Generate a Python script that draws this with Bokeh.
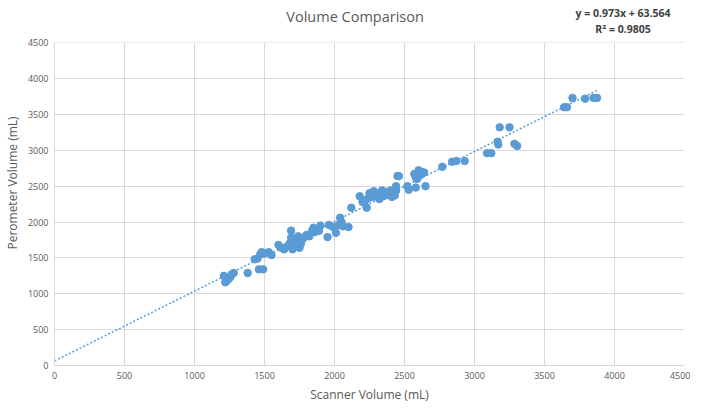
from bokeh.plotting import figure
from bokeh.models import Range1d, SingleIntervalTicker, Label, ColumnDataSource, BoxAnnotation
from bokeh.embed import file_html
from bokeh.resources import INLINE

title_text = "Volume Comparison"
x_label = "Scanner Volume (mL)"
y_label = "Perometer Volume (mL)"
eq_text = "y = 0.973x + 63.564"
r2_text = "R² = 0.9805"
slope = 0.973
intercept = 63.564

scanner = [1210, 1220, 1240, 1255, 1265, 1280, 1230, 1380, 1460, 1490, 1430, 1450, 1470, 1480, 1500, 1530, 1550,
           1600, 1620, 1640, 1660, 1680, 1690, 1690, 1700, 1710, 1720, 1740, 1750, 1760, 1770, 1780, 1800, 1820,
           1840, 1850, 1860, 1880, 1890, 1900, 1950, 1960, 1980, 2000, 2010, 2030, 2040, 2050, 2060, 2100, 2120,
           2180, 2200, 2220, 2230, 2240, 2250, 2260, 2270, 2280, 2300, 2310, 2320, 2340, 2350, 2360, 2380, 2400,
           2410, 2420, 2430, 2440, 2450, 2460, 2440,
           2520, 2530, 2570, 2580, 2590, 2600, 2610, 2620, 2640, 2650, 2580,
           2770, 2840, 2870, 2930,
           3090, 3120, 3170, 3165, 3180, 3250, 3285, 3305,
           3640, 3660, 3700, 3790, 3850, 3875]
perometer = [1250, 1160, 1200, 1230, 1270, 1290, 1180, 1290, 1340, 1340, 1480, 1490, 1550, 1580, 1560, 1580, 1540,
             1680, 1640, 1620, 1660, 1700, 1780, 1880, 1620, 1740, 1660, 1800, 1640, 1700, 1760, 1780, 1820, 1800,
             1880, 1920, 1860, 1900, 1880, 1950, 1790, 1960, 1940, 1920, 1850, 1960, 2060, 2000, 1940, 1930, 2200,
             2360, 2280, 2300, 2200, 2330, 2400, 2380, 2350, 2430, 2400, 2380, 2320, 2440, 2360, 2420, 2380, 2440,
             2350, 2400, 2370, 2500, 2640, 2640, 2440,
             2500, 2450, 2670, 2480, 2600, 2720, 2650, 2700, 2690, 2500, 2620,
             2770, 2840, 2850, 2850,
             2960, 2960, 3080, 3120, 3320, 3320, 3090, 3060,
             3600, 3600, 3730, 3720, 3730, 3730]

ticks_step = 500
axis_max = 4500
y_view_max = 5088  # room above the axes for the title and the trendline equation

FONT = "Open Sans"
GRAY = "#595959"
GRID = "#d9d9d9"
BLUE = "#5b9bd5"

p = figure(width=690, height=405, output_backend="svg", toolbar_location=None,
           x_range=Range1d(0, axis_max), y_range=Range1d(0, y_view_max),
           min_border_left=48, min_border_right=6, min_border_top=0, min_border_bottom=37)
p.outline_line_color = None
p.grid.grid_line_color = GRID
p.grid.grid_line_width = 1

for ax in (p.xaxis, p.yaxis):
    ax.ticker = SingleIntervalTicker(interval=ticks_step)
    ax.bounds = (0, axis_max)
    ax.major_tick_line_color = None
    ax.minor_tick_line_color = None
    ax.major_tick_out = 0
    ax.major_tick_in = 0
    ax.minor_tick_out = 0
    ax.minor_tick_in = 0
    ax.axis_line_color = GRID
    ax.major_label_text_font = FONT
    ax.major_label_text_font_size = "9px"
    ax.major_label_text_color = GRAY
    ax.axis_label_text_font = FONT
    ax.axis_label_text_font_size = "12px"
    ax.axis_label_text_color = GRAY
    ax.axis_label_text_font_style = "normal"

p.xaxis.axis_label = x_label
p.yaxis.axis_label = y_label
p.xaxis.major_label_standoff = 6
p.yaxis.major_label_standoff = 6
p.xaxis.axis_label_standoff = 4
p.yaxis.axis_label_standoff = 4

# trendline
x_min, x_max = 0, max(scanner)
tsrc = ColumnDataSource(dict(x=[x_min, x_max], y=[slope * x_min + intercept, slope * x_max + intercept]))
p.line("x", "y", source=tsrc, line_color=BLUE, line_width=1.5, line_dash="2 2")

src = ColumnDataSource(dict(x=scanner, y=perometer))
p.scatter("x", "y", source=src, size=7.5, fill_color=BLUE, line_color=BLUE)

# blank the grid lines above the plot area (title zone)
p.add_layout(BoxAnnotation(bottom=axis_max + 1, fill_color="white", fill_alpha=1.0, line_color=None))

p.add_layout(Label(x=2147, y=4864, text=title_text, text_font=FONT, text_font_size="14.5px",
                   text_color=GRAY, text_align="center", text_baseline="middle"))
p.add_layout(Label(x=4061, y=4919, text=eq_text, text_font=FONT, text_font_size="10.5px",
                   text_font_style="bold", text_color="#404040", text_align="center", text_baseline="middle"))
p.add_layout(Label(x=4061, y=4695, text=r2_text, text_font=FONT, text_font_size="10.5px",
                   text_font_style="bold", text_color="#404040", text_align="center", text_baseline="middle"))

open("out.html", "w").write(file_html(p, INLINE))
